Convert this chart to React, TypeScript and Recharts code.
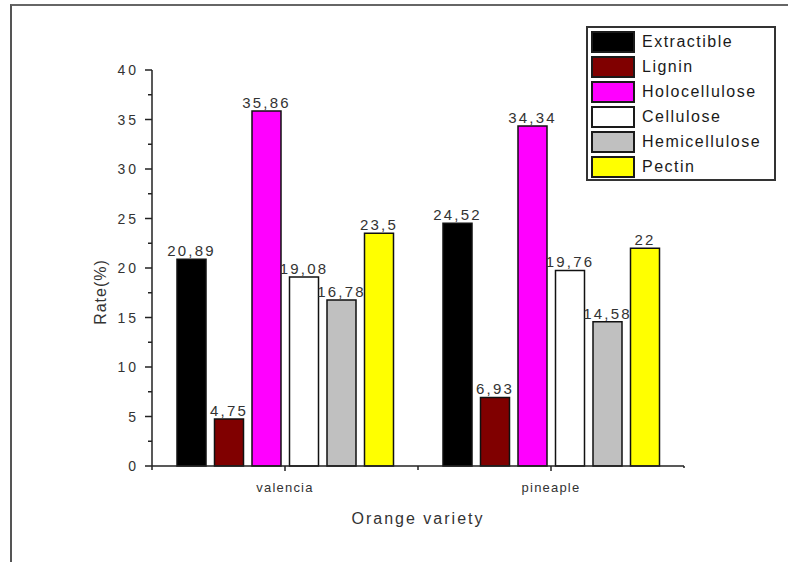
import React from "react";
import { BarChart, Bar, XAxis, YAxis, LabelList, Label } from "recharts";

const categories = ["valencia", "pineaple"];
const extractible = [20.89, 24.52];
const lignin = [4.75, 6.93];
const holocellulose = [35.86, 34.34];
const cellulose = [19.08, 19.76];
const hemicellulose = [16.78, 14.58];
const pectin = [23.5, 22];

const seriesNames = [
  "Extractible",
  "Lignin",
  "Holocellulose",
  "Cellulose",
  "Hemicellulose",
  "Pectin",
];
const seriesColors = ["#000000", "#800000", "#ff00ff", "#ffffff", "#c0c0c0", "#ffff00"];
const seriesValues = [extractible, lignin, holocellulose, cellulose, hemicellulose, pectin];

const yTicks = [0, 2.5, 5, 7.5, 10, 12.5, 15, 17.5, 20, 22.5, 25, 27.5, 30, 32.5, 35, 37.5, 40];

const data = categories.map((name, i) => {
  const row: Record<string, string | number> = { name };
  seriesNames.forEach((s, k) => {
    row[s] = seriesValues[k][i];
  });
  return row;
});

const W = 788;
const H = 562;
const margin = { top: 70, right: 104, bottom: 66, left: 92 };
const Y_AXIS_W = 60;
const X_AXIS_H = 30;
const plotWidth = W - margin.left - margin.right - Y_AXIS_W;
const halfBand = plotWidth / categories.length / 2;

const FONT = "'Liberation Sans', Arial, sans-serif";
const INK = "#222";

const commaFmt = (v: any) => String(v).replace(".", ",");

function YTick(props: any) {
  const { x, y, payload } = props;
  const major = payload.value % 5 === 0;
  return (
    <g>
      <line x1={x} x2={x - (major ? 7 : 4)} y1={y} y2={y} stroke={INK} strokeWidth={1.5} />
      {major && (
        <text
          x={x - 13}
          y={y}
          textAnchor="end"
          dominantBaseline="central"
          fontFamily={FONT}
          fontSize={14}
          letterSpacing={3}
          fill="#333"
        >
          {payload.value}
        </text>
      )}
    </g>
  );
}

function XTick(props: any) {
  const { x, y, payload, index } = props;
  return (
    <g>
      <line x1={x} x2={x} y1={y} y2={y + 5} stroke={INK} strokeWidth={1.5} />
      <line x1={x + halfBand} x2={x + halfBand} y1={y} y2={y + (index === categories.length - 1 ? 2 : 4)} stroke={INK} strokeWidth={1.5} />
      {index === 0 && (
        <line x1={x - halfBand} x2={x - halfBand} y1={y} y2={y + 4} stroke={INK} strokeWidth={1.5} />
      )}
      <text
        x={x}
        y={y + 26}
        textAnchor="middle"
        fontFamily={FONT}
        fontSize={13}
        letterSpacing={1.2}
        fill="#333"
      >
        {payload.value}
      </text>
    </g>
  );
}

function ChartLegend() {
  return (
    <div
      style={{
        position: "absolute",
        left: 586,
        top: 26,
        width: 190,
        height: 155,
        boxSizing: "border-box",
        border: "2px solid #333",
        background: "#fff",
        paddingTop: 1,
        paddingLeft: 3,
        fontFamily: FONT,
      }}
    >
      {seriesNames.map((name, i) => (
        <div key={name} style={{ display: "flex", alignItems: "center", height: 25 }}>
          <div
            style={{
              width: 44,
              height: 22,
              boxSizing: "border-box",
              border: "2px solid #1a1a1a",
              background: seriesColors[i],
            }}
          />
          <span
            style={{
              marginLeft: 7,
              fontSize: 16,
              letterSpacing: 1.5,
              color: "#1a1a1a",
            }}
          >
            {name}
          </span>
        </div>
      ))}
    </div>
  );
}

export default function App() {
  return (
    <div
      style={{
        position: "absolute",
        left: 0,
        top: 0,
        width: W,
        height: H,
        background: "#fff",
        overflow: "hidden",
      }}
    >
      <div
        style={{
          position: "absolute",
          left: 10,
          top: 4,
          width: W - 10,
          height: H - 4,
          borderLeft: "2px solid #555",
          borderTop: "2px solid #666",
        }}
      />
      <BarChart width={W} height={H} data={data} margin={margin} barSize={29} barGap={8.5}>
        <XAxis
          dataKey="name"
          height={X_AXIS_H}
          tickSize={0}
          tickMargin={0}
          tickLine={false}
          axisLine={{ stroke: INK, strokeWidth: 1.5 }}
          tick={<XTick />}
          interval={0}
        >
          <Label
            content={({ viewBox }: any) => (
              <text
                x={viewBox.x + viewBox.width / 2}
                y={518}
                textAnchor="middle"
                dominantBaseline="central"
                fontFamily={FONT}
                fontSize={16}
                letterSpacing={2}
                fill="#333"
              >
                Orange variety
              </text>
            )}
          />
        </XAxis>
        <YAxis
          width={Y_AXIS_W}
          domain={[0, 40]}
          ticks={yTicks}
          interval={0}
          tickSize={0}
          tickMargin={0}
          tickLine={false}
          axisLine={{ stroke: INK, strokeWidth: 1.5 }}
          tick={<YTick />}
        >
          <Label
            content={() => (
              <text
                x={100}
                y={292}
                transform="rotate(-90 100 292)"
                textAnchor="middle"
                dominantBaseline="central"
                fontFamily={FONT}
                fontSize={16}
                letterSpacing={1}
                fill="#333"
              >
                Rate(%)
              </text>
            )}
          />
        </YAxis>
        {seriesNames.map((name, i) => (
          <Bar
            key={name}
            dataKey={name}
            fill={seriesColors[i]}
            stroke="#111"
            strokeWidth={1.5}
            isAnimationActive={false}
          >
            <LabelList
              dataKey={name}
              position="top"
              offset={3}
              formatter={commaFmt}
              fontFamily={FONT}
              fontSize={15}
              letterSpacing={2.2}
              fill="#333"
            />
          </Bar>
        ))}
      </BarChart>
      <ChartLegend />
    </div>
  );
}
